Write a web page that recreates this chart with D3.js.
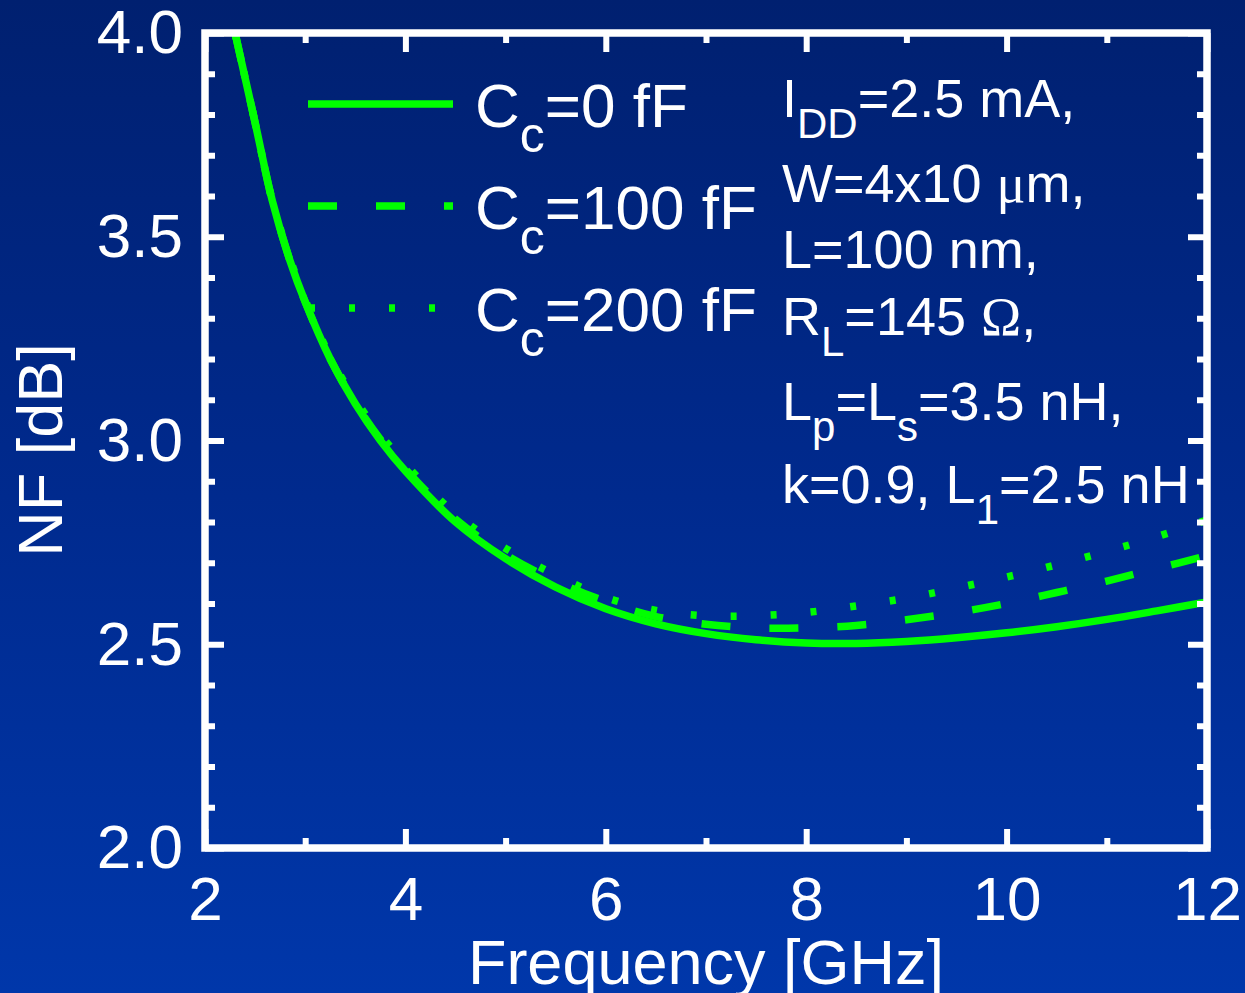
<!DOCTYPE html>
<html>
<head>
<meta charset="utf-8">
<script src="https://cdn.jsdelivr.net/npm/d3@7"></script>
<style>
html, body { margin: 0; padding: 0; background: #002a8c; overflow: hidden; }
svg { display: block; }
text { font-family: "Liberation Sans", Arial, sans-serif; fill: #fff; }
</style>
</head>
<body>
<script>
// frequency points [GHz]
var freq = [2.3, 2.5, 2.67, 2.85, 3.0, 3.25, 3.5, 3.75, 4.0, 4.5, 5.0, 5.5, 6.0, 6.5,
            7.0, 7.5, 8.0, 8.5, 9.0, 9.5, 10.0, 10.5, 11.0, 11.5, 12.0];
// NF [dB] for each coupling capacitance
var nf0   = [4.00, 3.78, 3.59, 3.44, 3.34, 3.2, 3.09, 3.0, 2.925, 2.8, 2.71, 2.64, 2.587, 2.55,
             2.526, 2.511, 2.503, 2.502, 2.507, 2.516, 2.528, 2.543, 2.561, 2.582, 2.604];
var nf100 = [4.00, 3.78, 3.59, 3.44, 3.34, 3.2, 3.092, 3.003, 2.93, 2.807, 2.72, 2.655, 2.605, 2.568,
             2.549, 2.54, 2.54, 2.546, 2.56, 2.578, 2.60, 2.627, 2.655, 2.686, 2.717];
var nf200 = [4.00, 3.78, 3.59, 3.445, 3.345, 3.205, 3.1, 3.015, 2.942, 2.82, 2.735, 2.67, 2.615, 2.583,
             2.57, 2.57, 2.578, 2.594, 2.613, 2.638, 2.665, 2.695, 2.728, 2.764, 2.805];

var seriesNames = ["0 fF", "100 fF", "200 fF"];
var seriesDash  = [null, "29,39", "6,34"];

var xMajor = [2, 4, 6, 8, 10, 12];
var xMinor = [3, 5, 7, 9, 11];
var yMajor = [2.0, 2.5, 3.0, 3.5, 4.0];
var yMinor = [2.1, 2.2, 2.3, 2.4, 2.6, 2.7, 2.8, 2.9, 3.1, 3.2, 3.3, 3.4, 3.6, 3.7, 3.8, 3.9];

var infoLines = [
  [["I", 0], ["DD", 1], ["=2.5 mA,", 0]],
  [["W=4x10 ", 0], ["\u03bc", 2], ["m,", 0]],
  [["L=100 nm,", 0]],
  [["R", 0], ["L", 1], ["=145 ", 0], ["\u03a9", 2], [",", 0]],
  [["L", 0], ["p", 1], ["=L", 0], ["s", 1], ["=3.5 nH,", 0]],
  [["k=0.9, L", 0], ["1", 1], ["=2.5 nH", 0]]
];
var infoBaselines = [117, 202, 268, 335, 420, 503];

(function(){
  var W = 1245, H = 993;
  var pLeft = 205, pRight = 1207, pTop = 33, pBottom = 848;

  var svg = d3.select("body").append("svg").attr("width", W).attr("height", H);

  var defs = svg.append("defs");
  var grad = defs.append("linearGradient").attr("id", "bg")
    .attr("x1", 0).attr("y1", 0).attr("x2", 0).attr("y2", 1);
  grad.append("stop").attr("offset", "0%").attr("stop-color", "#002070");
  grad.append("stop").attr("offset", "50%").attr("stop-color", "#002a8e");
  grad.append("stop").attr("offset", "100%").attr("stop-color", "#0037aa");
  svg.append("rect").attr("width", W).attr("height", H).attr("fill", "url(#bg)");

  defs.append("clipPath").attr("id", "plotclip").append("rect")
    .attr("x", pLeft).attr("y", pTop).attr("width", pRight - pLeft).attr("height", pBottom - pTop);

  var x = d3.scaleLinear().domain([2, 12]).range([pLeft, pRight]);
  var y = d3.scaleLinear().domain([2, 4]).range([pBottom, pTop]);

  // curves
  var line = d3.line()
    .x(function(d){ return x(d[0]); })
    .y(function(d){ return y(d[1]); })
    .curve(d3.curveCatmullRom.alpha(0.5));

  var allSeries = [nf0, nf100, nf200];
  var g = svg.append("g").attr("clip-path", "url(#plotclip)");
  allSeries.forEach(function(vals, i){
    var pts = freq.map(function(f, k){ return [f, vals[k]]; });
    g.append("path").datum(pts)
      .attr("d", line)
      .attr("fill", "none")
      .attr("stroke", "#00ff00")
      .attr("stroke-width", 7.5)
      .attr("stroke-dasharray", seriesDash[i]);
  });

  // axes: ticks point inward on all four sides
  function styleAxis(sel){
    sel.select(".domain").remove();
    sel.selectAll(".tick line").attr("stroke", "#fff").attr("stroke-width", 6);
    sel.selectAll(".tick text").attr("fill", "#fff")
      .style("font-family", "'Liberation Sans', Arial, sans-serif").style("font-size", "62px");
  }
  var fmtY = d3.format(".1f");

  svg.append("g").attr("transform", "translate(0," + pBottom + ")")
    .call(d3.axisBottom(x).tickValues(xMajor).tickSize(-19).tickPadding(28).tickFormat(d3.format("d")))
    .call(styleAxis);
  svg.append("g").attr("transform", "translate(0," + pBottom + ")")
    .call(d3.axisBottom(x).tickValues(xMinor).tickSize(-10).tickFormat(""))
    .call(styleAxis);
  svg.append("g").attr("transform", "translate(0," + pTop + ")")
    .call(d3.axisTop(x).tickValues(xMajor).tickSize(-19).tickFormat(""))
    .call(styleAxis);
  svg.append("g").attr("transform", "translate(0," + pTop + ")")
    .call(d3.axisTop(x).tickValues(xMinor).tickSize(-10).tickFormat(""))
    .call(styleAxis);

  svg.append("g").attr("transform", "translate(" + pLeft + ",0)")
    .call(d3.axisLeft(y).tickValues(yMajor).tickSize(-19).tickPadding(22).tickFormat(fmtY))
    .call(styleAxis);
  svg.append("g").attr("transform", "translate(" + pLeft + ",0)")
    .call(d3.axisLeft(y).tickValues(yMinor).tickSize(-10).tickFormat(""))
    .call(styleAxis);
  svg.append("g").attr("transform", "translate(" + pRight + ",0)")
    .call(d3.axisRight(y).tickValues(yMajor).tickSize(-19).tickFormat(""))
    .call(styleAxis);
  svg.append("g").attr("transform", "translate(" + pRight + ",0)")
    .call(d3.axisRight(y).tickValues(yMinor).tickSize(-10).tickFormat(""))
    .call(styleAxis);

  // frame
  svg.append("rect")
    .attr("x", pLeft).attr("y", pTop).attr("width", pRight - pLeft).attr("height", pBottom - pTop)
    .attr("fill", "none").attr("stroke", "#fff").attr("stroke-width", 7.5);

  // axis titles
  svg.append("text")
    .attr("x", (pLeft + pRight) / 2).attr("y", 984)
    .attr("text-anchor", "middle").style("font-size", "63px")
    .text("Frequency [GHz]");
  svg.append("text")
    .attr("transform", "translate(62,450) rotate(-90)")
    .attr("text-anchor", "middle").style("font-size", "63px")
    .text("NF [dB]");

  // legend
  var legX0 = 308, legX1 = 453, legTextX = 475;
  seriesNames.forEach(function(name, i){
    var ly = 104 + i * 102;
    svg.append("line")
      .attr("x1", legX0 + (i === 2 ? 1 : 0)).attr("x2", legX1).attr("y1", ly).attr("y2", ly)
      .attr("stroke", "#00ff00").attr("stroke-width", 7.5)
      .attr("stroke-dasharray", seriesDash[i]);
    var t = svg.append("text").attr("x", legTextX).attr("y", ly + 23).style("font-size", "62px");
    t.append("tspan").text("C");
    t.append("tspan").attr("dy", 25).style("font-size", "50px").text("c");
    t.append("tspan").attr("dy", -25).text("=" + name);
  });

  // parameter block
  infoLines.forEach(function(parts, i){
    var t = svg.append("text").attr("x", 782).attr("y", infoBaselines[i]).style("font-size", "54px");
    var shifted = false;
    parts.forEach(function(p){
      var ts = t.append("tspan").text(p[0]);
      if (p[1] === 1) {
        ts.attr("dy", 21).style("font-size", "42px");
        shifted = true;
      } else {
        if (shifted) { ts.attr("dy", -21); shifted = false; }
        if (p[1] === 2) ts.style("font-family", "'Liberation Serif', 'DejaVu Serif', serif");
      }
    });
  });
})();
</script>
</body>
</html>
